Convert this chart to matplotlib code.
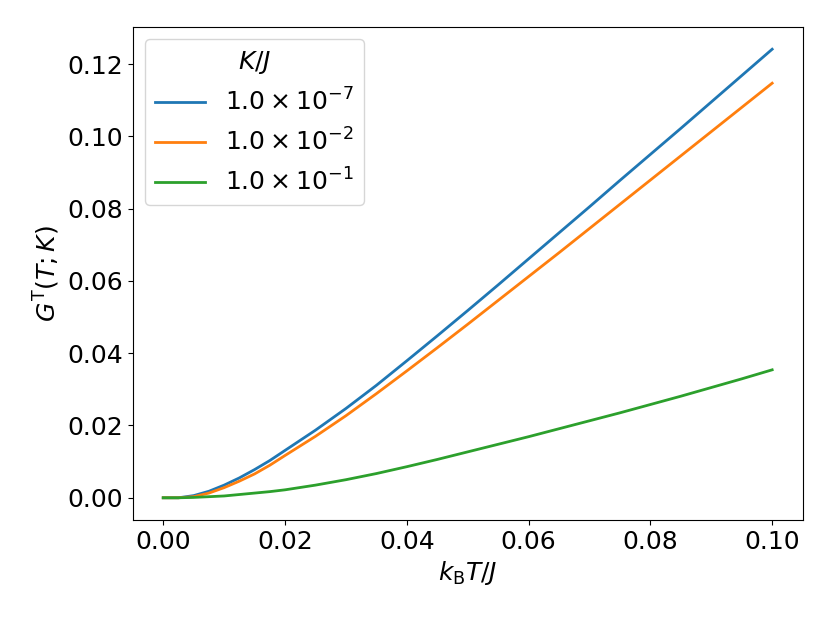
import numpy as np
import matplotlib
matplotlib.use("Agg")
import matplotlib.pyplot as plt

# temperature grid k_B T / J
temps = [0.0, 0.0025, 0.005, 0.0075, 0.01, 0.0125, 0.015, 0.0175, 0.02, 0.025,
         0.03, 0.035, 0.04, 0.045, 0.05, 0.055, 0.06, 0.065, 0.07, 0.075,
         0.08, 0.085, 0.09, 0.095, 0.1]

g_k7 = [0.0, 0.0, 0.0006, 0.0018, 0.0035, 0.0055, 0.0078, 0.0103, 0.0131, 0.0187,
        0.0247, 0.0311, 0.0379, 0.0448, 0.0518, 0.0589, 0.0661, 0.0733, 0.0805, 0.0878,
        0.0950, 0.1022, 0.1095, 0.1168, 0.1241]
g_k2 = [0.0, 0.0, 0.0003, 0.0013, 0.0028, 0.0046, 0.0066, 0.0090, 0.0117, 0.0170,
        0.0227, 0.0288, 0.0351, 0.0415, 0.0480, 0.0546, 0.0612, 0.0678, 0.0745, 0.0812,
        0.0879, 0.0946, 0.1013, 0.1080, 0.1147]
g_k1 = [0.0, 0.0, 0.0001, 0.0003, 0.0005, 0.0009, 0.0013, 0.0017, 0.0022, 0.0035,
        0.0050, 0.0067, 0.0086, 0.0106, 0.0127, 0.0148, 0.0169, 0.0191, 0.0213, 0.0235,
        0.0258, 0.0281, 0.0305, 0.0329, 0.0354]

labels = [r"$1.0\times10^{-7}$", r"$1.0\times10^{-2}$", r"$1.0\times10^{-1}$"]

plt.rcParams['font.size'] = 18

fig, ax = plt.subplots(figsize=(8.3, 6.23), dpi=100)
fig.subplots_adjust(left=0.160, right=0.967, bottom=0.165, top=0.957)

for g, lab in zip([g_k7, g_k2, g_k1], labels):
    ax.plot(temps, g, lw=2, label=lab)

ax.set_xlabel(r"$k_{\mathrm{B}}T/J$")
ax.set_ylabel(r"$G^{\mathrm{T}}(T;K)$")
ax.set_xticks([0.0, 0.02, 0.04, 0.06, 0.08, 0.10])
ax.set_xticklabels(["0.00", "0.02", "0.04", "0.06", "0.08", "0.10"])
ax.set_yticks([0.0, 0.02, 0.04, 0.06, 0.08, 0.10, 0.12])
ax.set_yticklabels(["0.00", "0.02", "0.04", "0.06", "0.08", "0.10", "0.12"])
ax.legend(title=r"$K/J$", loc="upper left", fontsize=18, title_fontsize=18)

fig.savefig("out.png")
